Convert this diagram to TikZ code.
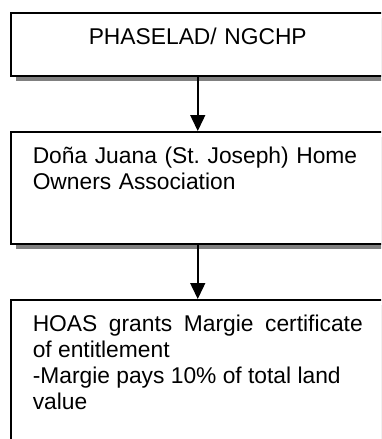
\documentclass[tikz,border=0pt]{standalone}
\usepackage{fontspec}
\setmainfont{Liberation Sans}
\usepackage{tikz}
\usetikzlibrary{arrows.meta}
\usetikzlibrary{shapes,positioning,shadows}
\hyphenpenalty=10000

\begin{document}
\begin{tikzpicture}[>={Triangle[width=15pt,length=16pt]},
		box/.style={draw, line width=1.5pt, fill=white, rectangle, anchor=north west,
			inner xsep=22pt, inner ysep=16pt, text width=330pt, text height=16pt,
			font=\fontsize{22.8pt}{26pt}\selectfont,
			drop shadow={shadow xshift=5pt, shadow yshift=-5pt, fill=gray, opacity=1}},
		node distance=54.5pt]
				\useasboundingbox (0,0) rectangle (381pt,-439pt);
				\clip (0,0) rectangle (381pt,-439pt);
				\node[box, align=center, text depth=15pt] (phaselad) at (10pt,-12pt) {PHASELAD/ NGCHP};
				\node[box, align=left, text depth=64pt, below=of phaselad] (hoa) {Doña Juana (St.\ Joseph) Home Owners Association};
				\node[box, align=justify, text depth=112pt, below=of hoa] (hoas) {HOAS grants Margie certificate of entitlement\\-Margie pays 10\% of total land\\value};
				\draw[line width=1.5pt, ->] (phaselad) -- (hoa);
				\draw[line width=1.5pt, ->] (hoa) -- (hoas);
			\end{tikzpicture}
\end{document}
